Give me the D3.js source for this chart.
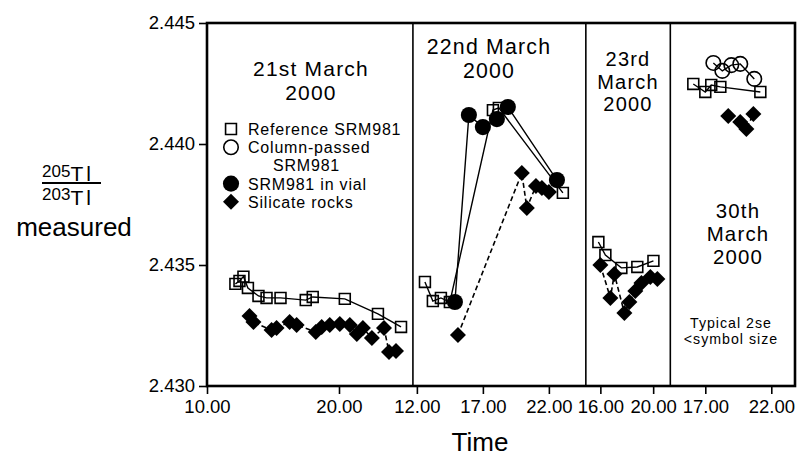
<!DOCTYPE html>
<html>
<head>
<meta charset="utf-8">
<script src="https://cdn.jsdelivr.net/npm/d3@7"></script>
<style>
  body { margin: 0; background: #fff; }
  svg { display: block; }
  text { font-family: "Liberation Sans", Arial, Helvetica, sans-serif; fill: #000; }
</style>
</head>
<body>
<div id="chart"></div>
<script>
var WD = 799, HT = 460
var margin = { left: 207, right: 4, top: 23, bottom: 74 }
var pxPerHour = 13.2

// days shown side by side, each with its own time axis (hours)
var dayTitles = [["21st March", "2000"], ["22nd March", "2000"], ["23rd", "March", "2000"], ["30th", "March", "2000"]]
var dayDomains = [[10, 25.6], [11.7, 24.8], [14.9, 21.3], [14.35, 23.8]]
var dayTicks = [[10, 20], [12, 17, 22], [16, 20], [17, 22]]
var yTicks = [2.430, 2.435, 2.440, 2.445]

// [day, time, 205Tl/203Tl]
var refSRM = [
  [0, 12.15, 2.43422], [0, 12.46, 2.43434], [0, 12.76, 2.43452], [0, 13.10, 2.43405], [0, 13.90, 2.43372],
  [0, 14.51, 2.43364], [0, 15.57, 2.43364], [0, 17.48, 2.43355], [0, 18.01, 2.43368], [0, 20.44, 2.43360],
  [0, 22.95, 2.43298], [0, 24.70, 2.43244],
  [1, 12.61, 2.43430], [1, 13.21, 2.43351], [1, 13.82, 2.43364], [1, 14.50, 2.43347], [1, 17.76, 2.44140],
  [1, 18.21, 2.44149], [1, 23.06, 2.43798],
  [2, 15.85, 2.43595], [2, 16.38, 2.43541], [2, 17.59, 2.43488], [2, 18.80, 2.43492], [2, 20.02, 2.43517],
  [3, 16.09, 2.44248], [3, 17.00, 2.44215], [3, 17.45, 2.44244], [3, 18.14, 2.44236], [3, 21.17, 2.44215]
]
var colSRM = [
  [3, 17.61, 2.44335], [3, 18.29, 2.44302], [3, 18.97, 2.44326], [3, 19.65, 2.44331], [3, 20.71, 2.44269]
]
var vialSRM = [
  [1, 14.88, 2.43347], [1, 15.94, 2.44120], [1, 17.00, 2.44070], [1, 18.06, 2.44103], [1, 18.89, 2.44153],
  [1, 22.61, 2.43851]
]
var rocks = [
  [0, 13.22, 2.43289], [0, 13.52, 2.43264], [0, 14.89, 2.43231], [0, 15.27, 2.43240], [0, 16.26, 2.43264],
  [0, 16.79, 2.43252], [0, 18.24, 2.43223], [0, 18.69, 2.43244], [0, 19.30, 2.43252], [0, 20.06, 2.43256],
  [0, 20.82, 2.43252], [0, 21.35, 2.43215], [0, 21.81, 2.43240], [0, 22.49, 2.43198], [0, 23.41, 2.43240],
  [0, 23.79, 2.43140], [0, 24.32, 2.43145],
  [1, 15.11, 2.43211], [1, 19.95, 2.43880], [1, 20.33, 2.43736], [1, 21.02, 2.43826], [1, 21.47, 2.43818],
  [1, 22.00, 2.43802],
  [2, 16.00, 2.43500], [2, 16.76, 2.43364], [2, 17.06, 2.43463], [2, 17.82, 2.43302], [2, 18.20, 2.43347],
  [2, 18.65, 2.43393], [2, 19.11, 2.43426], [2, 19.79, 2.43450], [2, 20.32, 2.43442],
  [3, 18.74, 2.44116], [3, 19.65, 2.44091], [3, 20.11, 2.44062], [3, 20.64, 2.44124]
]

var svg = d3.select("#chart").append("svg")
  .attr("width", WD)
  .attr("height", HT)

var y = d3.scaleLinear().domain([2.430, 2.445]).range([HT - margin.bottom, margin.top])

// one x scale per day, laid out left to right
var xs = []
var x0 = margin.left
dayDomains.forEach(function (dom) {
  var w = (dom[1] - dom[0]) * pxPerHour
  xs.push(d3.scaleLinear().domain(dom).range([x0, x0 + w]))
  x0 += w
})

var plotBottom = y(2.430), plotTop = y(2.445)

// panel dividers
xs.slice(1).forEach(function (s) {
  svg.append("line")
    .attr("x1", s.range()[0]).attr("x2", s.range()[0])
    .attr("y1", plotTop).attr("y2", plotBottom)
    .attr("stroke", "#000").attr("stroke-width", 1.6)
})

// x axes
xs.forEach(function (s, i) {
  var g = svg.append("g")
    .attr("transform", "translate(0," + plotBottom + ")")
    .call(d3.axisBottom(s).tickValues(dayTicks[i]).tickFormat(d3.format(".2f")).tickSize(8).tickPadding(6))
  g.select(".domain").remove()
  g.selectAll(".tick line").attr("stroke-width", 1.6)
  g.selectAll("text").attr("font-size", 18.5).attr("font-family", null)
})

// y axis
var gy = svg.append("g")
  .attr("transform", "translate(" + margin.left + ",0)")
  .call(d3.axisLeft(y).tickValues(yTicks).tickFormat(d3.format(".3f")).tickSize(8).tickPadding(4))
gy.select(".domain").remove()
gy.selectAll(".tick line").attr("stroke-width", 1.6)
gy.selectAll("text").attr("font-size", 18.5).attr("font-family", null)

// frame
svg.append("rect")
  .attr("x", margin.left).attr("y", plotTop)
  .attr("width", WD - margin.right - margin.left).attr("height", plotBottom - plotTop)
  .attr("fill", "none").attr("stroke", "#000").attr("stroke-width", 2.6)

// connecting lines per day
function px(d) { return xs[d[0]](d[1]) }
function py(d) { return y(d[2]) }
var line = d3.line().x(px).y(py)

function drawLines(data, dash) {
  d3.groups(data, function (d) { return d[0] }).forEach(function (grp) {
    svg.append("path")
      .attr("d", line(grp[1]))
      .attr("fill", "none").attr("stroke", "#000")
      .attr("stroke-width", dash ? 1.6 : 1.4)
      .attr("stroke-dasharray", dash ? "5,3" : null)
  })
}
drawLines(rocks, true)
drawLines(refSRM, false)
drawLines(colSRM, false)
drawLines(vialSRM, false)

var sqSym = d3.symbol(d3.symbolSquare, 118)
var diaSym = d3.symbol(d3.symbolSquare, 128)
var dotSym = d3.symbol(d3.symbolCircle, 205)
var ringSym = d3.symbol(d3.symbolCircle, 165)

function drawSymbols(data, sym, fill, stroke, rot) {
  svg.append("g").selectAll("path")
    .data(data)
    .enter().append("path")
      .attr("d", sym)
      .attr("transform", function (d) { return "translate(" + px(d) + "," + py(d) + ")" + (rot ? " rotate(45)" : "") })
      .attr("fill", fill)
      .attr("stroke", "#000")
      .attr("stroke-width", stroke)
}
drawSymbols(rocks, diaSym, "#000", 0, true)
drawSymbols(refSRM, sqSym, "none", 1.6, false)
drawSymbols(vialSRM, dotSym, "#000", 0, false)
drawSymbols(colSRM, ringSym, "none", 1.6, false)

// day titles: x, first baseline, line step, font size
var titlePos = [[311, 76, 23.5, 21], [489, 54, 24, 21.3], [628, 66, 22.5, 20], [738, 218, 23, 20.4]]
dayTitles.forEach(function (lines, i) {
  var p = titlePos[i]
  var t = svg.append("text")
    .attr("x", p[0]).attr("y", p[1])
    .attr("text-anchor", "middle")
    .attr("font-size", p[3])
    .attr("letter-spacing", 1.2)
  lines.forEach(function (s, j) {
    t.append("tspan").attr("x", p[0]).attr("dy", j ? p[2] : 0).text(s)
  })
})

// note
var note = svg.append("text").attr("x", 731).attr("y", 328).attr("text-anchor", "middle")
  .attr("font-size", 14.2).attr("letter-spacing", 1)
note.append("tspan").attr("x", 731).text("Typical 2se")
note.append("tspan").attr("x", 731).attr("dy", 16).text("<symbol size")

// legend
var legend = [
  { label: ["Reference SRM981"], sym: sqSym, fill: "none", stroke: 1.6, rot: false },
  { label: ["Column-passed", "SRM981"], sym: ringSym, fill: "none", stroke: 1.6, rot: false },
  { label: ["SRM981 in vial"], sym: dotSym, fill: "#000", stroke: 0, rot: false },
  { label: ["Silicate rocks"], sym: diaSym, fill: "#000", stroke: 0, rot: true }
]
var legText = svg.append("text").attr("x", 248).attr("y", 135).attr("font-size", 16).attr("letter-spacing", 0.8)
var ly = 135, first = true
legend.forEach(function (it) {
  svg.append("path")
    .attr("d", it.sym)
    .attr("transform", "translate(231," + (ly - 6) + ")" + (it.rot ? " rotate(45)" : ""))
    .attr("fill", it.fill).attr("stroke", "#000").attr("stroke-width", it.stroke)
  it.label.forEach(function (s, j) {
    legText.append("tspan").attr("x", j ? 273 : 248).attr("dy", first ? 0 : 18.2).text(s)
    first = false
    ly += 18.2
  })
})

// y axis title: 205Tl / 203Tl measured
var num = svg.append("text").attr("x", 42).attr("y", 177).attr("font-size", 17)
num.append("tspan").text("205")
num.append("tspan").attr("dy", 4).attr("font-size", 21).attr("letter-spacing", 3).text("Tl")
svg.append("line").attr("x1", 42).attr("x2", 101).attr("y1", 183).attr("y2", 183)
  .attr("stroke", "#000").attr("stroke-width", 2)
var den = svg.append("text").attr("x", 42).attr("y", 200).attr("font-size", 17)
den.append("tspan").text("203")
den.append("tspan").attr("dy", 5).attr("font-size", 21).attr("letter-spacing", 3).text("Tl")
svg.append("text").attr("x", 74).attr("y", 236).attr("text-anchor", "middle").attr("font-size", 26).text("measured")

// x axis title
svg.append("text").attr("x", 480).attr("y", 451).attr("text-anchor", "middle").attr("font-size", 26).text("Time")
</script>
</body>
</html>
